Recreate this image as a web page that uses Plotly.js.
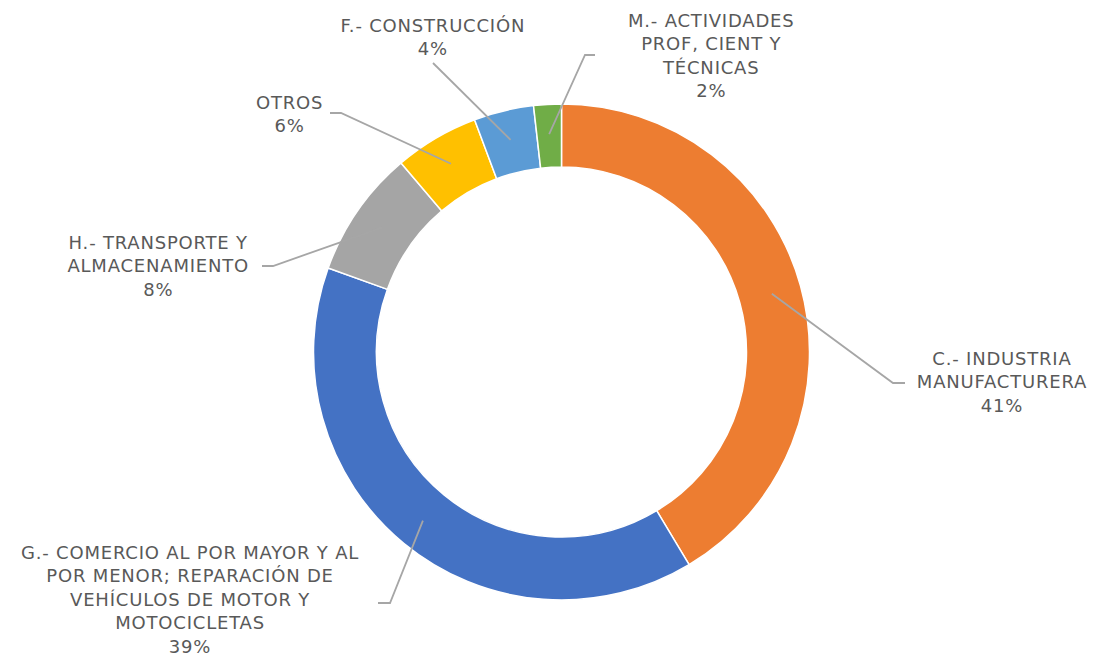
<!DOCTYPE html>
<html>
<head>
<meta charset="utf-8">
<script src="https://cdn.plot.ly/plotly-3.0.1.min.js"></script>
<style>
html,body{margin:0;padding:0;background:#fff;}
#chart{width:1097px;height:656px;}
#chart .annotation-text{letter-spacing:0.8px;}
</style>
</head>
<body>
<div id="chart"></div>
<script>
// ---- data ----
const categories = [
  "C.- INDUSTRIA MANUFACTURERA",
  "G.- COMERCIO AL POR MAYOR Y AL POR MENOR; REPARACIÓN DE VEHÍCULOS DE MOTOR Y MOTOCICLETAS",
  "H.- TRANSPORTE Y ALMACENAMIENTO",
  "OTROS",
  "F.- CONSTRUCCIÓN",
  "M.- ACTIVIDADES PROF, CIENT Y TÉCNICAS"
];
const displayLabels = [
  "C.- INDUSTRIA<br>MANUFACTURERA",
  "G.- COMERCIO AL POR MAYOR Y AL<br>POR MENOR; REPARACIÓN DE<br>VEHÍCULOS DE MOTOR Y<br>MOTOCICLETAS",
  "H.- TRANSPORTE Y<br>ALMACENAMIENTO",
  "OTROS",
  "F.- CONSTRUCCIÓN",
  "M.- ACTIVIDADES<br>PROF, CIENT Y<br>TÉCNICAS"
];
const shares = [41.4, 39.1, 8.3, 5.5, 3.9, 1.8];
const colors = ["#ED7D31", "#4472C4", "#A5A5A5", "#FFC000", "#5B9BD5", "#70AD47"];

// ---- layout (pixel geometry) ----
const W = 1097, H = 656;
const CX = 561.5, CY = 352, R = 248;
// label centre and leader-line bend/end points (pixels)
const labelPos = [
  {x: 1002, y: 382, pts: [[893, 383], [905, 383]]},
  {x: 190,  y: 599, pts: [[390, 603], [378, 603]]},
  {x: 158,  y: 266, pts: [[273, 266], [262, 266]]},
  {x: 289,  y: 114, pts: [[341, 113], [330, 113]]},
  {x: 433,  y: 37,  pts: [[433, 63]]},
  {x: 711,  y: 55,  pts: [[585, 55], [595, 55]]}
];

const px = x => x / W;
const py = y => 1 - y / H;

const total = shares.reduce((a, b) => a + b, 0);
let cum = 0;
const annotations = [];
const shapes = [];
shares.forEach((v, i) => {
  const mid = (cum + v / 2) / total * 2 * Math.PI; // clockwise from 12 o'clock
  cum += v;
  const r0 = R * 0.88;
  const sx = CX + r0 * Math.sin(mid), sy = CY - r0 * Math.cos(mid);
  const lp = labelPos[i];
  let path = `M ${px(sx)} ${py(sy)}`;
  lp.pts.forEach(p => { path += ` L ${px(p[0])} ${py(p[1])}`; });
  shapes.push({type: 'path', xref: 'paper', yref: 'paper', path: path,
    line: {color: '#A6A6A6', width: 1.8}});
  const pct = Math.round(v / total * 100);
  annotations.push({
    xref: 'paper', yref: 'paper', x: px(lp.x), y: py(lp.y),
    xanchor: 'center', yanchor: 'middle', align: 'center', showarrow: false,
    text: displayLabels[i] + '<br>' + pct + '%',
    font: {family: 'DejaVu Sans, sans-serif', size: 18, color: '#595959'}
  });
});

const trace = {
  type: 'pie',
  labels: categories,
  values: shares,
  sort: false,
  direction: 'clockwise',
  rotation: 0,
  hole: 0.746,
  textinfo: 'none',
  hoverinfo: 'label+percent',
  marker: {colors: colors, line: {color: '#FFFFFF', width: 1.5}},
  domain: {x: [px(CX - R), px(CX + R)], y: [py(CY + R), py(CY - R)]}
};

Plotly.newPlot('chart', [trace], {
  width: W, height: H,
  margin: {l: 0, r: 0, t: 0, b: 0},
  showlegend: false,
  paper_bgcolor: '#FFFFFF',
  annotations: annotations,
  shapes: shapes
}, {displayModeBar: false, staticPlot: true});
</script>
</body>
</html>
